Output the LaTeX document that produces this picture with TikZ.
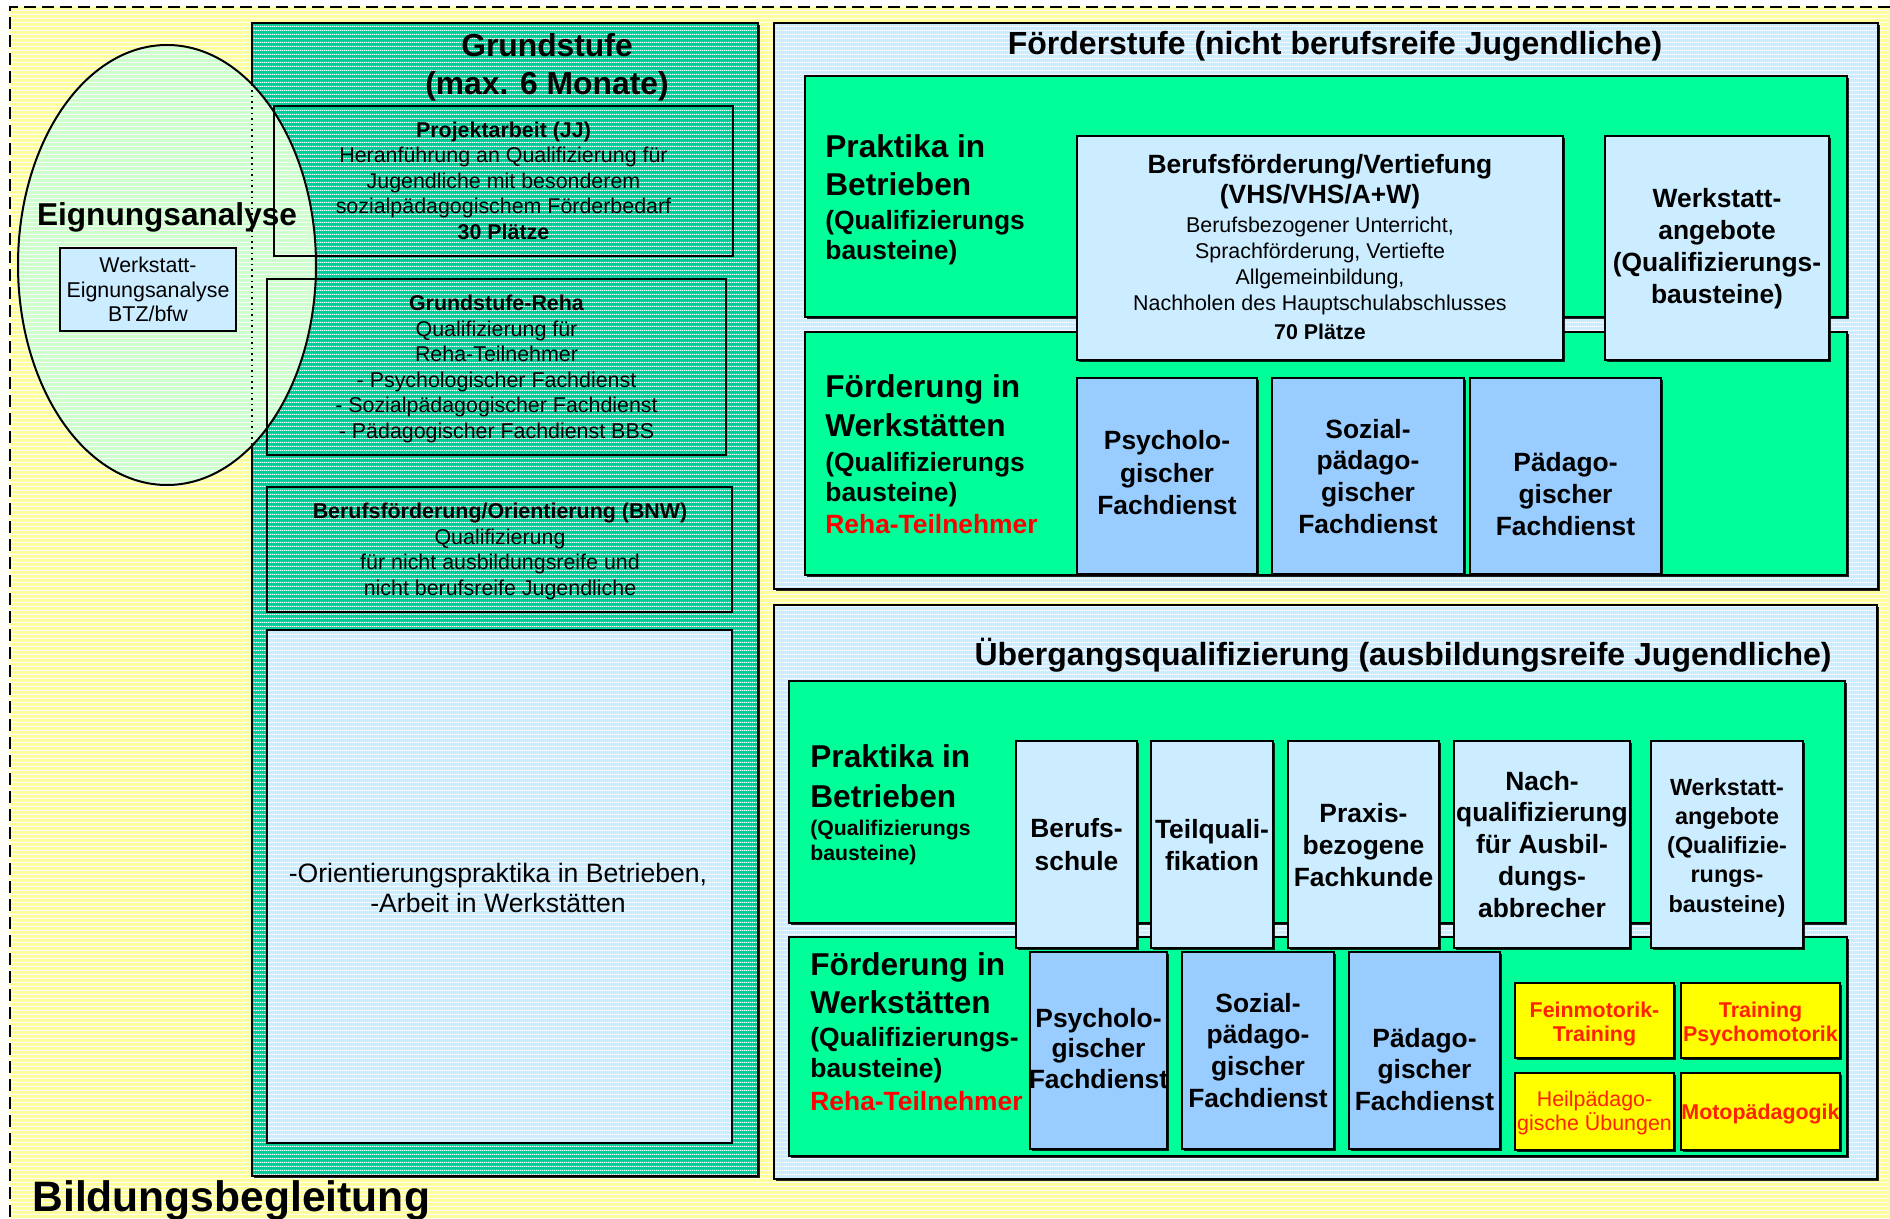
\documentclass[tikz,border=0pt]{standalone}
\usepackage{fontspec}
\setmainfont{Liberation Sans}
\usetikzlibrary{patterns.meta,shadows}
\definecolor{cYel}{HTML}{FFFF99}
\definecolor{cTeal}{HTML}{00CC99}
\definecolor{cEll}{HTML}{CCFFCC}
\definecolor{cLB}{HTML}{CCECFF}
\definecolor{cGreen}{HTML}{00FF99}
\definecolor{cMB}{HTML}{99CCFF}
\definecolor{cYbox}{HTML}{FFFF00}
\definecolor{cRed}{HTML}{FF0000}
\definecolor{cOr}{HTML}{FF2200}
\tikzdeclarepattern{
  name=hstripes,
  type=uncolored,
  bounding box={(0pt,0pt) and (1pt,2pt)},
  tile size={(1pt,2pt)},
  code={\fill (0pt,0pt) rectangle (1pt,0.65pt);}
}
\newcommand\txtblock[6]{%
  \foreach \tline [count=\k from 0] in {#6}{%
    \node[inner sep=0pt, anchor=base, #5] (#1\k) at ({#2},{#3+#4*\k}) {\tline};}}
\tikzset{
  box/.style={draw=black, line width=1pt},
  stripe/.style={preaction={fill=#1}, pattern=hstripes, pattern color=white},
  shd/.style={drop shadow={shadow xshift=1pt, shadow yshift=-1pt, opacity=0.85, fill=black}},
  lft/.style={anchor=base west},
  fbody/.style={font=\fontsize{10.7}{12}\selectfont},
  fbodyb/.style={font=\fontsize{10.7}{12}\selectfont\bfseries},
  fhead/.style={font=\fontsize{15.8}{18}\selectfont\bfseries},
  ftitle/.style={font=\fontsize{16}{18}\selectfont\bfseries},
  fsub/.style={font=\fontsize{13.2}{15}\selectfont\bfseries},
  fsmall/.style={font=\fontsize{10.6}{12}\selectfont\bfseries},
  fcol/.style={font=\fontsize{13.2}{15}\selectfont\bfseries},
  fcols/.style={font=\fontsize{11.7}{14}\selectfont\bfseries},
  fmid/.style={font=\fontsize{13.3}{15}\selectfont},
  dashborder/.style={draw=black, line width=1pt, dash pattern=on 6pt off 3pt}
}
\begin{document}
\begin{tikzpicture}[x=0.5pt, y=-0.5pt]
\useasboundingbox (0,0) rectangle (1890,1219);
% background
\fill[white] (0,0) rectangle (1890,1219);
\path[stripe=cYel] (10,7) rectangle (1890,1219);
\coordinate (bTR) at (1890,7);
\coordinate (bTL) at (10,7);
\coordinate (bBL) at (10,1219);
\draw[dashborder] (bTR) -- (bTL) -- (bBL);

% Grundstufe column
\path[shd, stripe=cTeal, box] (252,23) rectangle (758,1176);
% Eignungsanalyse ellipse
\path[stripe=cEll, box] (167,265) ellipse [x radius=149, y radius=220];
\begin{scope}
  \clip (167,265) ellipse [x radius=148, y radius=219];
  \draw[dotted, line width=0.8pt] (252,23) -- (252,1176);
\end{scope}
\draw[box] (274,106) rectangle (733,256);
\draw[box] (267,279) rectangle (726,455);
\draw[box] (267,487) rectangle (732,612);
\path[stripe=cLB, box] (267,630) rectangle (732,1143);
\path[fill=cLB, box] (60,248) rectangle (236,331);

\txtblock{gt}{547}{57}{38}{font=\fontsize{15.9}{18}\selectfont\bfseries}{{Grundstufe},{(max. 6 Monate)}}
\txtblock{ea}{167}{226}{0}{font=\fontsize{15.8}{18}\selectfont\bfseries}{{Eignungsanalyse}}
\txtblock{we}{148}{273}{24.5}{fbody}{{Werkstatt-},{Eignungsanalyse},{BTZ/bfw}}
\txtblock{pa}{503.5}{137.3}{25.5}{fbody}{{\textbf{Projektarbeit (JJ)}},{Heranführung an Qualifizierung für},{Jugendliche mit besonderem},{sozialpädagogischem Förderbedarf},{\textbf{30 Plätze}}}
\txtblock{gr}{496.5}{311}{25.4}{fbody}{{\textbf{Grundstufe-Reha}},{Qualifizierung für},{Reha-Teilnehmer},{- Psychologischer Fachdienst},{- Sozialpädagogischer Fachdienst},{- Pädagogischer Fachdienst BBS}}
\txtblock{bn}{500}{518.5}{25.6}{fbody}{{\textbf{Berufsförderung/Orientierung (BNW)}},{Qualifizierung},{für nicht ausbildungsreife und},{nicht berufsreife Jugendliche}}
\txtblock{or}{498}{882}{30.5}{fmid}{{-Orientierungspraktika in Betrieben,},{-Arbeit in Werkstätten}}

% Förderstufe
\path[shd, stripe=cLB, box] (774,23) rectangle (1878,589);
\txtblock{ft}{1335}{55}{0}{ftitle}{{Förderstufe (nicht berufsreife Jugendliche)}}
\path[shd, fill=cGreen, box] (805,76) rectangle (1847,317);
\path[shd, fill=cGreen, box] (805,332) rectangle (1847,575);
\path[shd, fill=cLB, box] (1077,136) rectangle (1563,360);
\path[shd, fill=cLB, box] (1605,136) rectangle (1829,360);
\path[shd, fill=cMB, box] (1077,378) rectangle (1257,574);
\path[shd, fill=cMB, box] (1272,378) rectangle (1464,574);
\path[shd, fill=cMB, box] (1470,378) rectangle (1661,574);

\txtblock{fp}{825}{158}{38}{lft, fhead}{{Praktika in},{Betrieben}}
\txtblock{fq}{825}{230}{30}{lft, fsub}{{(Qualifizierungs},{bausteine)}}
\txtblock{bv}{1320}{174}{30}{fsub}{{Berufsförderung/Vertiefung},{(VHS/VHS/A+W)}}
\txtblock{bb}{1320}{233}{25.7}{fbody}{{Berufsbezogener Unterricht,},{Sprachförderung, Vertiefte},{Allgemeinbildung,},{Nachholen des Hauptschulabschlusses}}
\txtblock{bp}{1320}{340}{0}{fbodyb}{{70 Plätze}}
\txtblock{fw}{1717}{208}{31.7}{fsub}{{Werkstatt-},{angebote},{(Qualifizierungs-},{bausteine)}}
\txtblock{ff}{825}{398}{39}{lft, fhead}{{Förderung in},{Werkstätten}}
\txtblock{fg}{825}{472}{29.5}{lft, fsub}{{(Qualifizierungs},{bausteine)}}
\txtblock{fr}{825}{533}{0}{lft, fsub, text=cRed}{{Reha-Teilnehmer}}
\txtblock{fps}{1167}{450}{32}{fcol}{{Psycholo-},{gischer},{Fachdienst}}
\txtblock{fso}{1368}{438}{31.7}{fcol}{{Sozial-},{pädago-},{gischer},{Fachdienst}}
\txtblock{fpa}{1565.5}{472}{31.5}{fcol}{{Pädago-},{gischer},{Fachdienst}}

% Uebergangsqualifizierung
\path[shd, stripe=cLB, box] (774,605) rectangle (1877,1179);
\txtblock{ut}{1403}{665}{0}{ftitle}{{Übergangsqualifizierung (ausbildungsreife Jugendliche)}}
\path[shd, fill=cGreen, box] (789,681) rectangle (1845,923);
\path[shd, fill=cGreen, box] (789,937) rectangle (1847,1156);
\path[shd, fill=cLB, box] (1016,741) rectangle (1137,948);
\path[shd, fill=cLB, box] (1151,741) rectangle (1273,948);
\path[shd, fill=cLB, box] (1288,741) rectangle (1439,948);
\path[shd, fill=cLB, box] (1454,741) rectangle (1630,948);
\path[shd, fill=cLB, box] (1651,741) rectangle (1803,948);
\path[shd, fill=cMB, box] (1030,952) rectangle (1167,1149);
\path[shd, fill=cMB, box] (1182,952) rectangle (1334,1149);
\path[shd, fill=cMB, box] (1349,952) rectangle (1500,1149);
\path[shd, fill=cYbox, box] (1515,983) rectangle (1674,1058);
\path[shd, fill=cYbox, box] (1681,983) rectangle (1840,1058);
\path[shd, fill=cYbox, box] (1515,1073) rectangle (1674,1150);
\path[shd, fill=cYbox, box] (1681,1073) rectangle (1840,1150);

\txtblock{up}{810}{767}{40}{lft, fhead}{{Praktika in},{Betrieben}}
\txtblock{uq}{810}{835}{25}{lft, fsmall}{{(Qualifizierungs},{bausteine)}}
\txtblock{u1}{1076.5}{837}{33}{fcol}{{Berufs-},{schule}}
\txtblock{u2}{1212}{838}{32}{fcol}{{Teilquali-},{fikation}}
\txtblock{u3}{1363.5}{822}{32}{fcol}{{Praxis-},{bezogene},{Fachkunde}}
\txtblock{u4}{1542}{790}{31.8}{fcol}{{Nach-},{qualifizierung},{für Ausbil-},{dungs-},{abbrecher}}
\txtblock{u5}{1727}{795}{29.3}{fcols}{{Werkstatt-},{angebote},{(Qualifizie-},{rungs-},{bausteine)}}
\txtblock{uf}{810}{975}{38}{lft, fhead}{{Förderung in},{Werkstätten}}
\txtblock{ug}{810}{1046}{31}{lft, fsub}{{(Qualifizierungs-},{bausteine)}}
\txtblock{ur}{810}{1110}{0}{lft, fsub, text=cRed}{{Reha-Teilnehmer}}
\txtblock{ups}{1098.5}{1027}{30.5}{fcol}{{Psycholo-},{gischer},{Fachdienst}}
\txtblock{uso}{1258}{1012}{31.7}{fcol}{{Sozial-},{pädago-},{gischer},{Fachdienst}}
\txtblock{upa}{1424.5}{1047}{31.5}{fcol}{{Pädago-},{gischer},{Fachdienst}}
\txtblock{y1}{1594.5}{1017}{24}{fbodyb, text=cOr}{{Feinmotorik-},{Training}}
\txtblock{y2}{1760.5}{1017}{24}{fbodyb, text=cOr}{{Training},{Psychomotorik}}
\txtblock{y3}{1594.5}{1106}{24}{fbody, text=cOr}{{Heilpädago-},{gische Übungen}}
\txtblock{y4}{1760.5}{1119}{0}{fbodyb, text=cOr}{{Motopädagogik}}

\txtblock{bl}{32}{1211}{0}{lft, font=\fontsize{21.3}{24}\selectfont\bfseries}{{Bildungsbegleitung}}
\end{tikzpicture}
\end{document}
